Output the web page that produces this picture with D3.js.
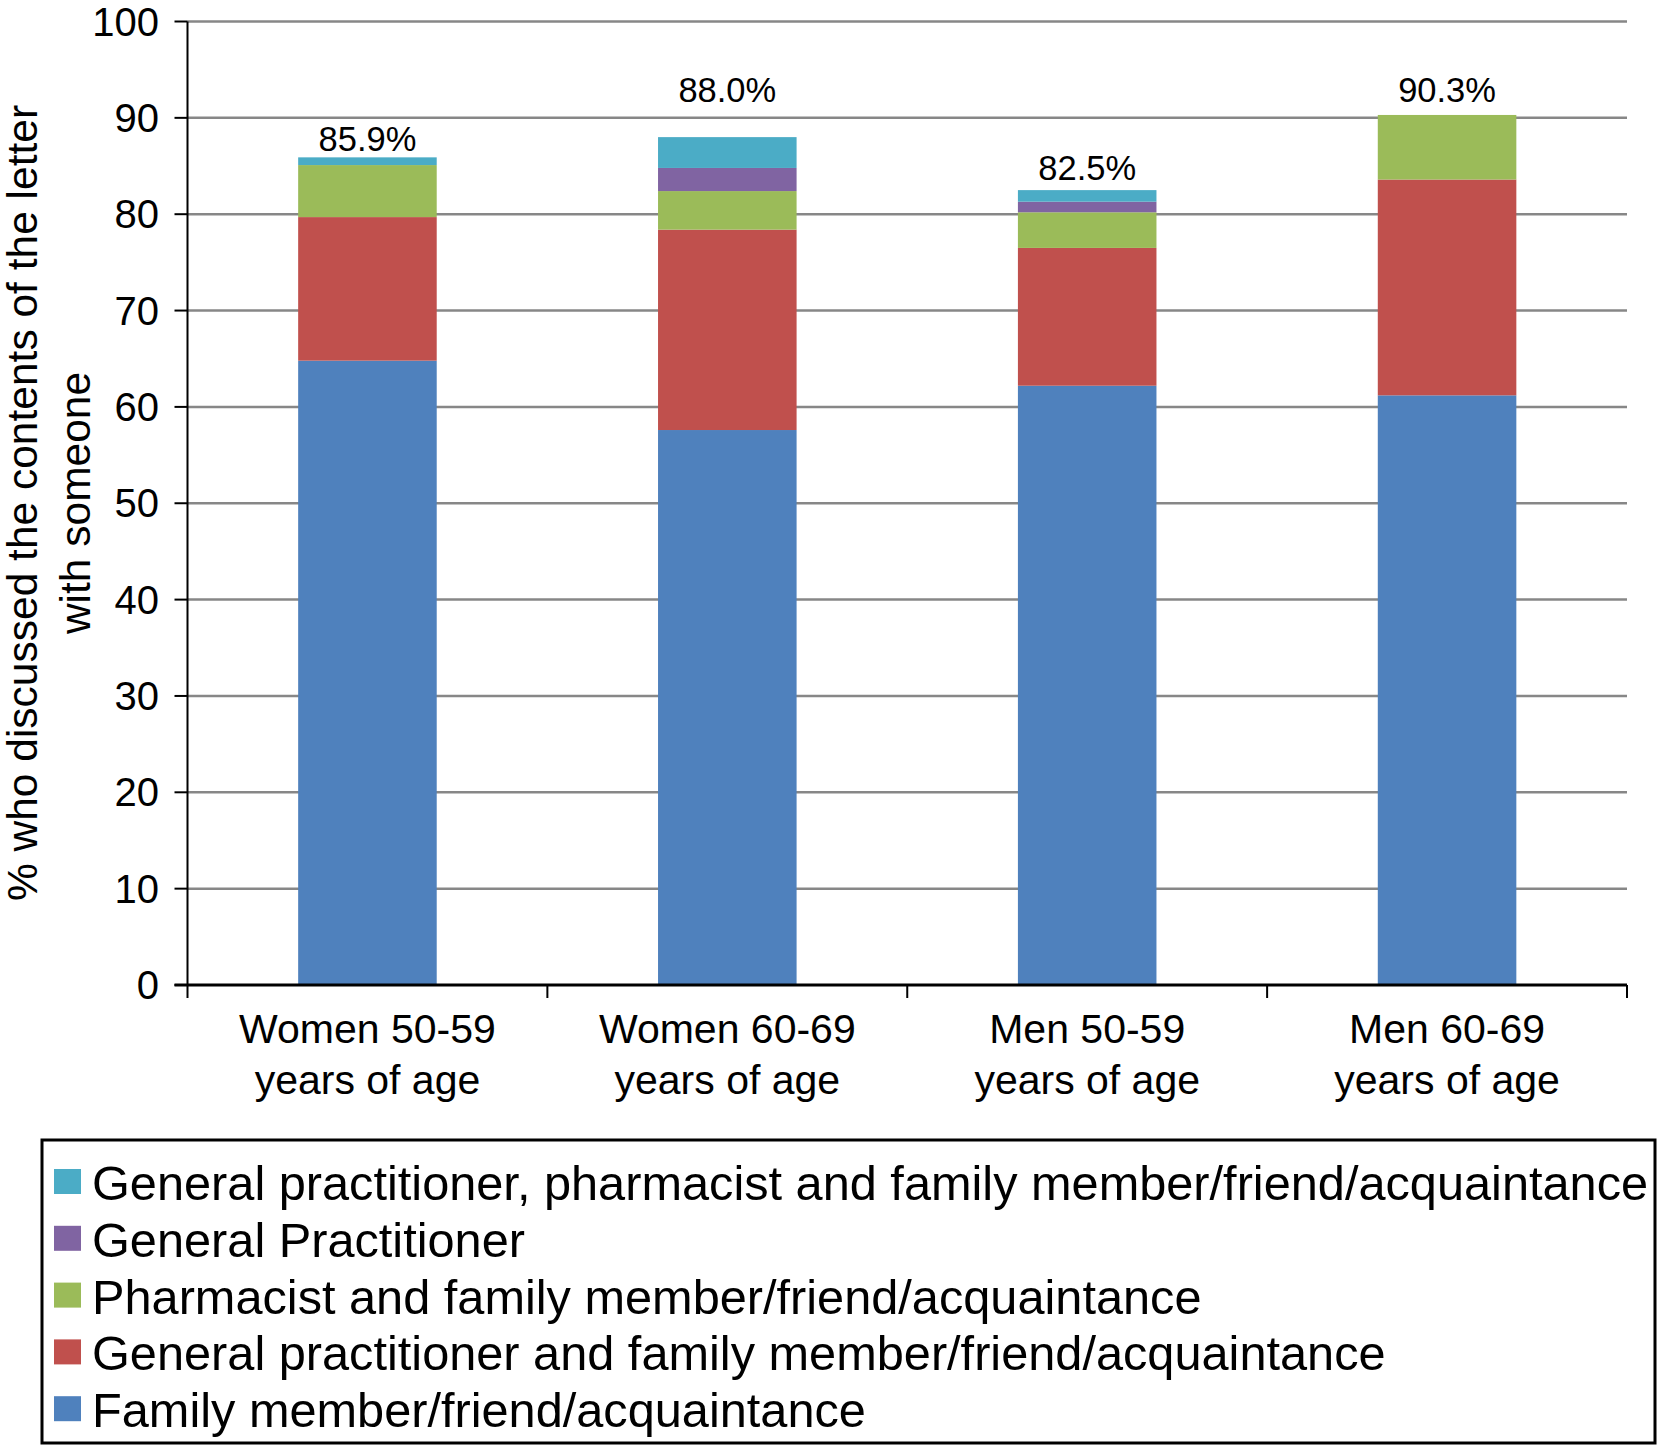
<!DOCTYPE html>
<html><head><meta charset="utf-8">
<script src="https://cdn.jsdelivr.net/npm/d3@7"></script>
<style>body{margin:0;background:#fff}svg{display:block}text{font-family:"Liberation Sans",Arial,sans-serif;fill:#000}</style>
</head><body><svg id="c" width="1661" height="1446"></svg>
<script>
const categories = [["Women 50-59","years of age"],["Women 60-69","years of age"],["Men 50-59","years of age"],["Men 60-69","years of age"]];
const seriesNames = ["Family member/friend/acquaintance","General practitioner and family member/friend/acquaintance","Pharmacist and family member/friend/acquaintance","General Practitioner","General practitioner, pharmacist and family member/friend/acquaintance"];
const family = [64.8, 57.6, 62.2, 61.2];
const gpFamily = [14.9, 20.8, 14.3, 22.4];
const pharmFamily = [5.4, 4.0, 3.7, 6.7];
const gpOnly = [0, 2.4, 1.1, 0];
const gpPharmFamily = [0.8, 3.2, 1.2, 0];
const totalLabels = ["85.9%","88.0%","82.5%","90.3%"];
const labelAnchor = [86.6, 91.6, 83.5, 91.6];
const yTicks = [0,10,20,30,40,50,60,70,80,90,100];
const colors = ["#4F81BD","#C0504D","#9BBB59","#8064A2","#4BACC6"];
const yTitle = ["% who discussed the contents of the letter","with someone"];

const svg = d3.select("#c");
const x0 = 187.5, x1 = 1627, yTop = 21.5, yBot = 985;
const x = d3.scaleBand().domain(d3.range(categories.length)).range([x0,x1]).paddingInner(0.615).paddingOuter(0.3075);
const y = d3.scaleLinear().domain([0,100]).range([yBot,yTop]);

// gridlines
svg.append("g").selectAll("line").data(yTicks.filter(d=>d>0)).join("line")
  .attr("x1",x0).attr("x2",x1).attr("y1",d=>y(d)).attr("y2",d=>y(d))
  .attr("stroke","#878787").attr("stroke-width",2.5);

// stacked bars
const seriesArrays = [family,gpFamily,pharmFamily,gpOnly,gpPharmFamily];
const rows = categories.map((c,i)=>{const o={i};seriesArrays.forEach((s,k)=>o[k]=s[i]);return o;});
const stack = d3.stack().keys(d3.range(seriesArrays.length))(rows);
svg.append("g").selectAll("g").data(stack).join("g").attr("fill",(d,k)=>colors[k])
  .selectAll("rect").data(d=>d).join("rect")
  .attr("x",d=>x(d.data.i)).attr("width",x.bandwidth())
  .attr("y",d=>y(d[1])).attr("height",d=>y(d[0])-y(d[1]));

// y axis
const yAxis = svg.append("g");
yAxis.append("line").attr("x1",x0).attr("x2",x0).attr("y1",yTop).attr("y2",yBot).attr("stroke","#000").attr("stroke-width",2);
yAxis.selectAll("line.t").data(yTicks).join("line").attr("class","t")
  .attr("x1",x0-13).attr("x2",x0).attr("y1",d=>y(d)).attr("y2",d=>y(d)).attr("stroke","#000").attr("stroke-width",2);
yAxis.selectAll("text").data(yTicks).join("text")
  .attr("x",159).attr("y",d=>y(d)).attr("dy","0.35em").attr("text-anchor","end")
  .attr("font-size",40).text(d=>d);

// x axis
const xAxis = svg.append("g");
xAxis.append("line").attr("x1",x0-13).attr("x2",x1).attr("y1",yBot).attr("y2",yBot).attr("stroke","#000").attr("stroke-width",3);
const bounds = d3.range(categories.length+1).map(i=>x0+i*(x1-x0)/categories.length);
xAxis.selectAll("line.t").data(bounds).join("line").attr("class","t")
  .attr("x1",d=>d).attr("x2",d=>d).attr("y1",yBot).attr("y2",yBot+13).attr("stroke","#000").attr("stroke-width",2);
const cl = xAxis.selectAll("text").data(categories).join("text")
  .attr("text-anchor","middle").attr("font-size",41)
  .attr("transform",(d,i)=>`translate(${x(i)+x.bandwidth()/2},0)`);
cl.selectAll("tspan").data(d=>d).join("tspan").attr("x",0).attr("y",(d,j)=>1043+j*51).text(d=>d);

// total labels
svg.append("g").selectAll("text").data(totalLabels).join("text")
  .attr("x",(d,i)=>x(i)+x.bandwidth()/2).attr("y",(d,i)=>y(labelAnchor[i]))
  .attr("text-anchor","middle").attr("font-size",34.5).text(d=>d);

// y title
const yt = svg.append("text").attr("transform","translate(0,503) rotate(-90)").attr("text-anchor","middle").attr("font-size",42.5);
yt.selectAll("tspan").data(yTitle).join("tspan").attr("x",0).attr("y",(d,j)=>37+j*53).text(d=>d);

// legend
const lg = svg.append("g");
lg.append("rect").attr("x",42).attr("y",1140).attr("width",1613).attr("height",303).attr("fill","none").attr("stroke","#000").attr("stroke-width",3);
const order = [4,3,2,1,0];
const items = lg.selectAll("g.item").data(order).join("g").attr("class","item")
  .attr("transform",(k,j)=>`translate(0,${1183+j*56.8})`);
items.append("rect").attr("x",54).attr("y",-14).attr("width",27).attr("height",25).attr("fill",k=>colors[k]);
items.append("text").attr("x",92).attr("dy","0.35em").attr("font-size",48.7).text(k=>seriesNames[k]);
</script></body></html>
